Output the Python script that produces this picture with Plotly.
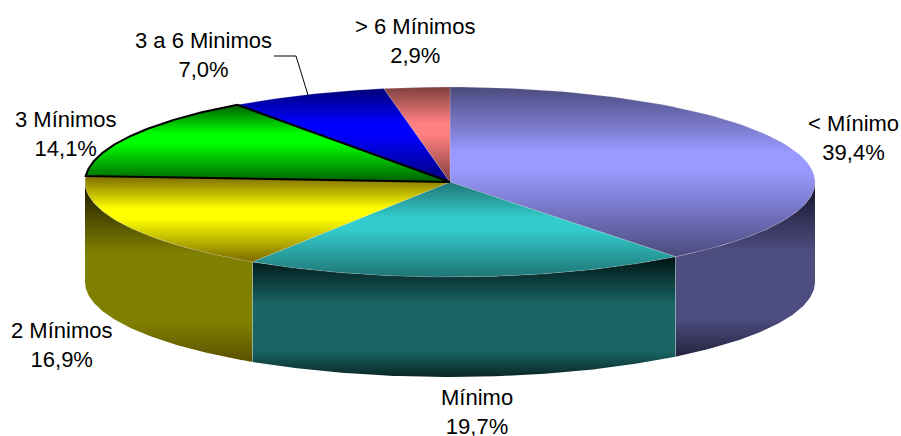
import math
import plotly.graph_objects as go

labels = ["< Mínimo", "Mínimo", "2 Mínimos", "3 Mínimos", "3 a 6 Minimos", "> 6 Mínimos"]
values = [39.4, 19.7, 16.9, 14.1, 7.0, 2.9]
value_text = ["39,4%", "19,7%", "16,9%", "14,1%", "7,0%", "2,9%"]

top_mid = ["#9999FF", "#33CCCC", "#FFFF00", "#00FF00", "#0000FF", "#FF8080"]
top_edge = ["#4B4A7D", "#1F7575", "#7A6A00", "#005F00", "#000078", "#7F3F3F"]
side_mid = ["#4D4D80", "#1A6666", "#808000"]
side_top = ["#23233F", "#0A2626", "#5A5000"]
side_bot = ["#15122A", "#001212", "#1A1600"]

label_x = [853, 477, 61, 65, 203, 415]
label_y = [138, 412, 345, 134, 55, 41]

CX, CY, RX, RY, DEPTH = 450, 182, 365, 95, 100


def pt(a_deg, dy=0):
    a = math.radians(a_deg)
    return CX + RX * math.sin(a), CY - RY * math.cos(a) + dy


def arc(a0, a1, dy=0, n=80):
    pts = [pt(a0 + (a1 - a0) * i / n, dy) for i in range(n + 1)]
    return [p[0] for p in pts], [p[1] for p in pts]


total = sum(values)
angles = [0]
for v in values:
    angles.append(angles[-1] + v / total * 360)

fig = go.Figure()

# visible side walls (front half of the disc)
for i in range(3):
    a0 = max(angles[i], 90)
    a1 = min(angles[i + 1], 270)
    xt, yt = arc(a0, a1)
    xb, yb = arc(a1, a0, DEPTH)
    fig.add_trace(go.Scatter(
        x=xt + xb + [xt[0]], y=yt + yb + [yt[0]], mode="lines", line=dict(width=0),
        fill="toself",
        fillgradient=dict(type="vertical", colorscale=[
            [0, side_top[i]], [0.22, side_mid[i]], [0.6, side_mid[i]], [1, side_bot[i]]]),
        hoverinfo="skip", showlegend=False))

# top faces
order = [0, 1, 2, 4, 5, 3]
for i in order:
    xa, ya = arc(angles[i], angles[i + 1])
    is_green = labels[i] == "3 Mínimos"
    fig.add_trace(go.Scatter(
        x=[CX] + xa + [CX], y=[CY] + ya + [CY], mode="lines",
        line=dict(width=2 if is_green else 0.5, color="#000000" if is_green else "rgba(220,220,230,0.45)"),
        fill="toself",
        fillgradient=dict(type="vertical", colorscale=[
            [0, top_edge[i]], [0.5, top_mid[i]], [0.62, top_mid[i]], [1, top_edge[i]]]),
        hoverinfo="skip", showlegend=False))

# light seams on the side wall
for a in angles[1:3]:
    x0, y0 = pt(a)
    x1, y1 = pt(a, DEPTH)
    fig.add_trace(go.Scatter(x=[x0, x1], y=[y0, y1], mode="lines",
                             line=dict(width=0.7, color="rgba(200,225,225,0.6)"),
                             hoverinfo="skip", showlegend=False))

annotations = [
    dict(x=x, y=y, xref="x", yref="y", text=f"{l}<br>{t}", showarrow=False, align="center",
         font=dict(family="Liberation Sans", size=22, color="#000000"))
    for l, t, x, y in zip(labels, value_text, label_x, label_y)
]

fig.update_layout(
    width=901, height=436, margin=dict(l=0, r=0, t=0, b=0),
    paper_bgcolor="#FFFFFF", plot_bgcolor="#FFFFFF", showlegend=False,
    xaxis=dict(range=[0, 901], visible=False, fixedrange=True),
    yaxis=dict(range=[436, 0], visible=False, fixedrange=True),
    annotations=annotations,
    shapes=[dict(type="path", path="M 274 56 L 296 56 L 308 95", xref="x", yref="y",
                 line=dict(color="#000000", width=1))],
)

fig.write_html("out.html", config={"displayModeBar": False},
               post_script="document.body.style.margin='0';document.body.style.overflow='hidden';")
